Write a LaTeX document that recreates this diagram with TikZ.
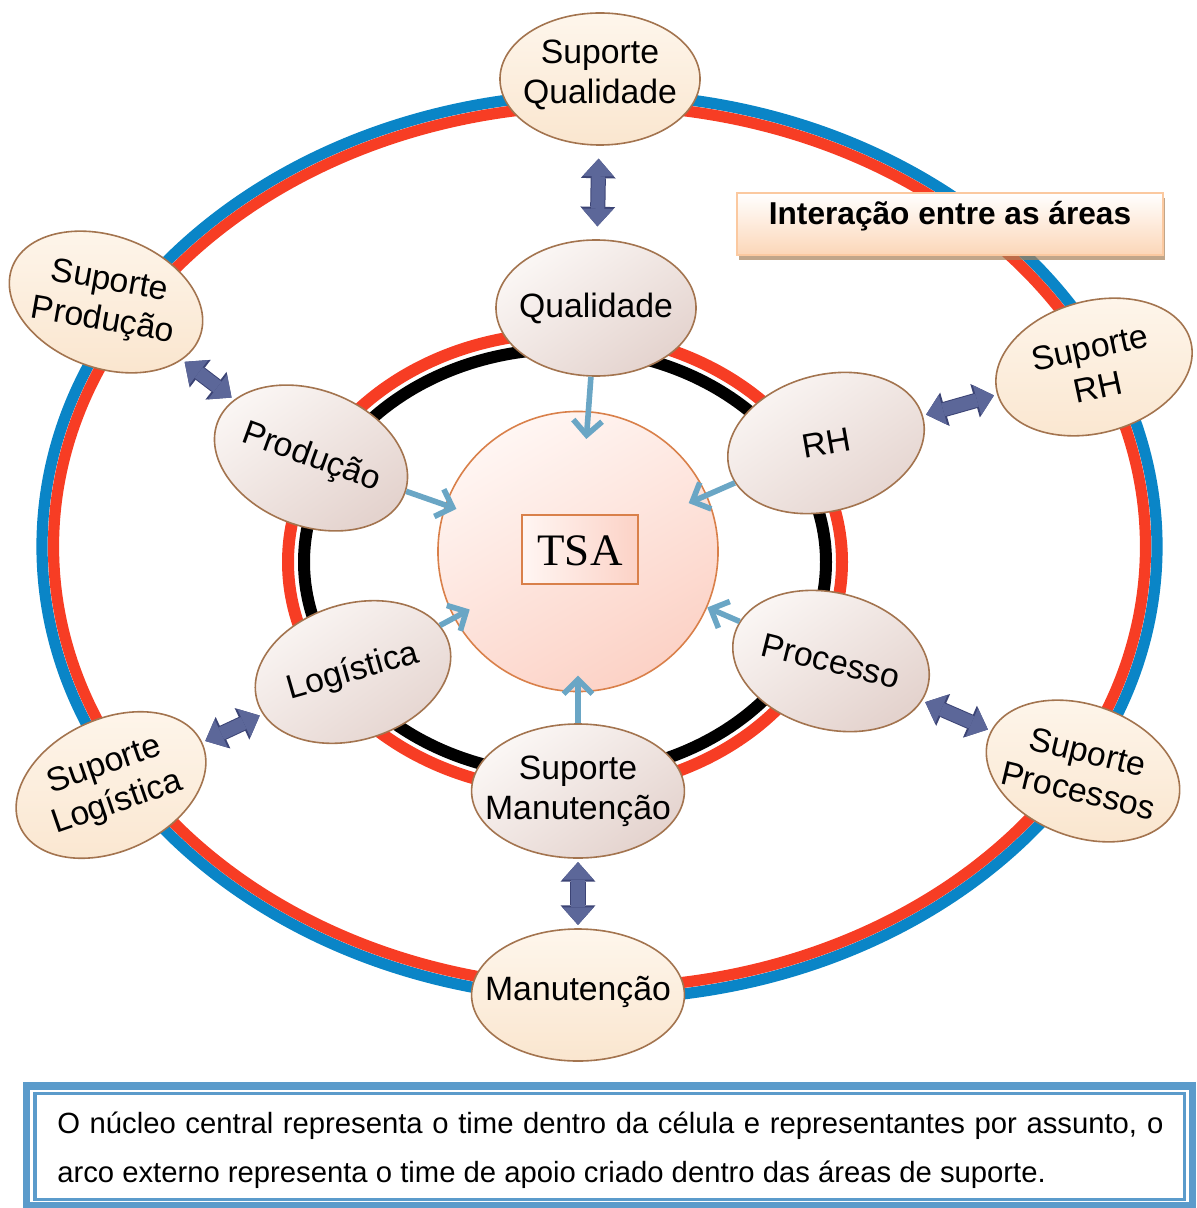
\documentclass[tikz,border=0pt]{standalone}
\usepackage{fontspec}
\setmainfont{Liberation Sans}
\newfontfamily\tsafont{Liberation Serif}
\usetikzlibrary{shapes.geometric,arrows.meta,shadows}

\definecolor{anelazul}{HTML}{0A85C7}
\definecolor{anelverm}{HTML}{F73D24}
\definecolor{setaazul}{HTML}{6AA6C5}
\definecolor{setafill}{HTML}{5C6799}
\definecolor{setaborda}{HTML}{3C4475}
\definecolor{borda}{HTML}{A3744F}
\definecolor{bege}{HTML}{FAE6CF}
\definecolor{begeclaro}{HTML}{FEF6EC}
\definecolor{rosaclaro}{HTML}{FBF7F5}
\definecolor{rosaescuro}{HTML}{E4D3CE}
\definecolor{tsaclaro}{HTML}{FFF6F3}
\definecolor{tsaescuro}{HTML}{FCD2C6}
\definecolor{tsaborda}{HTML}{D9804A}
\definecolor{pessego}{HTML}{FBC9A0}
\definecolor{notaazul}{HTML}{5B9BCB}

\tikzset{
  seta/.tip={Triangle[width=0.78cm,length=0.44cm,line width=0pt]},
  setaf/.tip={Triangle[width=0.87cm,length=0.49cm,line width=0pt]},
  ponta/.tip={Straight Barb[length=0.36cm,width=0.72cm]}
}

\begin{document}
\begin{tikzpicture}[x=0.025cm, y=-0.025cm,
  area/.style={ellipse, draw=borda, line width=0.04cm, minimum width=5cm, minimum height=3.4cm, inner sep=0pt, top color=rosaclaro, bottom color=rosaescuro, shading angle=35},
  suporte/.style={ellipse, draw=borda, line width=0.04cm, minimum width=5cm, minimum height=3.3cm, inner sep=0pt, top color=begeclaro, bottom color=bege},
  rotulo/.style={font=\fontsize{24}{28.5}\selectfont, align=center, inner sep=0pt},
  influencia/.style={draw=setaazul, line width=0.14cm, -ponta},
  troca/.style={draw=setafill, line width=0.33cm, seta-seta, shorten <=0.08cm, shorten >=0.08cm,
    preaction={draw=setaborda, line width=0.38cm, setaf-setaf}},
  nota/.style={font=\fontsize{20.8}{35}\selectfont, inner sep=0pt}
]
\useasboundingbox (0,0) rectangle (1196,1208);

% Anel externo (suporte)
\draw[anelazul, line width=0.28cm] (599.5,546.5) ellipse [x radius=557.5, y radius=452.5];
\draw[anelverm, line width=0.28cm] (599.5,546.5) ellipse [x radius=546, y radius=441];

% Anel interno (celula)
\draw[anelverm, line width=0.3cm] (565,562) ellipse [x radius=277, y radius=229];
\draw[black, line width=0.3cm] (565,562) ellipse [x radius=261, y radius=213];

% Nucleo central
\node[circle, draw=tsaborda, line width=0.04cm, minimum size=7cm, top color=tsaclaro, bottom color=tsaescuro, shading angle=30] (tsa) at (578,551.5) {};
\node[draw=tsaborda, line width=0.04cm, left color=tsaclaro, right color=tsaescuro, anchor=base, minimum width=2.9cm, text height=1.25cm, text depth=0.475cm, inner sep=0pt, font=\tsafont\fontsize{32}{32}\selectfont] (tsabox) at (580,565) {TSA};

% Titulo
\node[draw=pessego, line width=0.06cm, top color=white, bottom color=pessego!75, anchor=base, minimum width=10.65cm, text height=0.8cm, text depth=0.75cm, inner sep=0pt, font=\bfseries\fontsize{22.5}{27}\selectfont,
  drop shadow={shadow xshift=0.04cm, shadow yshift=-0.12cm, fill=brown!60!gray, opacity=0.7}] (titulo) at (950,225) {Interação entre as áreas};

% Areas da celula
\node[area] (qual) at (596,308) {};
\node[rotulo] (qual-t) at (qual) {Qualidade};
\node[area, rotate=15] (rh) at (826,443) {};
\node[rotulo, rotate=10] (rh-t) at (rh) {RH};
\node[area, rotate=-21] (prod) at (311,458) {};
\node[rotulo, rotate=-20] (prod-t) at (prod) {Produção};
\node[area, rotate=17] (logi) at (353,672) {};
\node[rotulo, rotate=16] (logi-t) at (logi) {Logística};
\node[area, rotate=-15] (proc) at (831,661) {};
\node[rotulo, rotate=-14] (proc-t) at (proc) {Processo};
\node[area, minimum width=5.32cm, minimum height=3.35cm] (smanut) at (578,791) {};
\node[rotulo] (smanut-t) at (smanut) {Suporte\\Manutenção};

% Areas de suporte
\node[suporte] (squal) at (600,79) {};
\node[rotulo, yshift=0.1cm] (squal-t) at (squal) {Suporte\\Qualidade};
\node[suporte, rotate=-20] (sprod) at (106,302) {};
\node[rotulo, rotate=-10] (sprod-t) at (sprod) {Suporte\\Produção};
\node[suporte, rotate=15] (srh) at (1094,367) {};
\node[rotulo, rotate=12] (srh-t) at (srh) {Suporte\\RH};
\node[suporte, rotate=25] (slog) at (111,785) {};
\node[rotulo, rotate=19] (slog-t) at (slog) {Suporte\\Logística};
\node[suporte, rotate=-20] (sproc) at (1083,771) {};
\node[rotulo, rotate=-13.5] (sproc-t) at (sproc) {Suporte\\Processos};
\node[suporte, minimum width=5.32cm] (manut) at (578,995) {};
\node[rotulo, yshift=0.08cm] (manut-t) at (manut) {Manutenção};

% Setas para o nucleo
\draw[influencia, shorten >=-0.7cm] (qual) -- (tsa);
\draw[influencia, shorten >=-0.5cm] (rh) -- (tsa);
\draw[influencia, shorten >=-0.3cm] (prod) -- (tsa);
\draw[influencia, shorten >=-0.45cm] (logi) -- (tsa);
\draw[influencia] (proc) -- (tsa);
\draw[influencia, shorten >=-0.42cm] (smanut) -- (tsa);

% Interacao com o suporte
\draw[troca, shorten <=0.32cm, shorten >=0.32cm] (squal) -- (qual);
\draw[troca] (sprod) -- (prod);
\draw[troca] (srh) -- (rh);
\draw[troca] (slog) -- (logi);
\draw[troca] (sproc) -- (proc);
\draw[troca] (smanut) -- (manut);

% Quadro da nota
\draw[notaazul, line width=0.18cm] (26.5,1086) rectangle (1192.5,1206);
\draw[notaazul, line width=0.08cm] (35,1093.5) rectangle (1184.5,1199.5);
\node[nota, anchor=base west] (linha1) at (57,1133) {\makebox[27.65cm][s]{O núcleo central representa o time dentro da célula e representantes por assunto, o}};
\node[nota, anchor=base west] (linha2) at (57,1182) {arco externo representa o time de apoio criado dentro das áreas de suporte.};
\end{tikzpicture}
\end{document}
